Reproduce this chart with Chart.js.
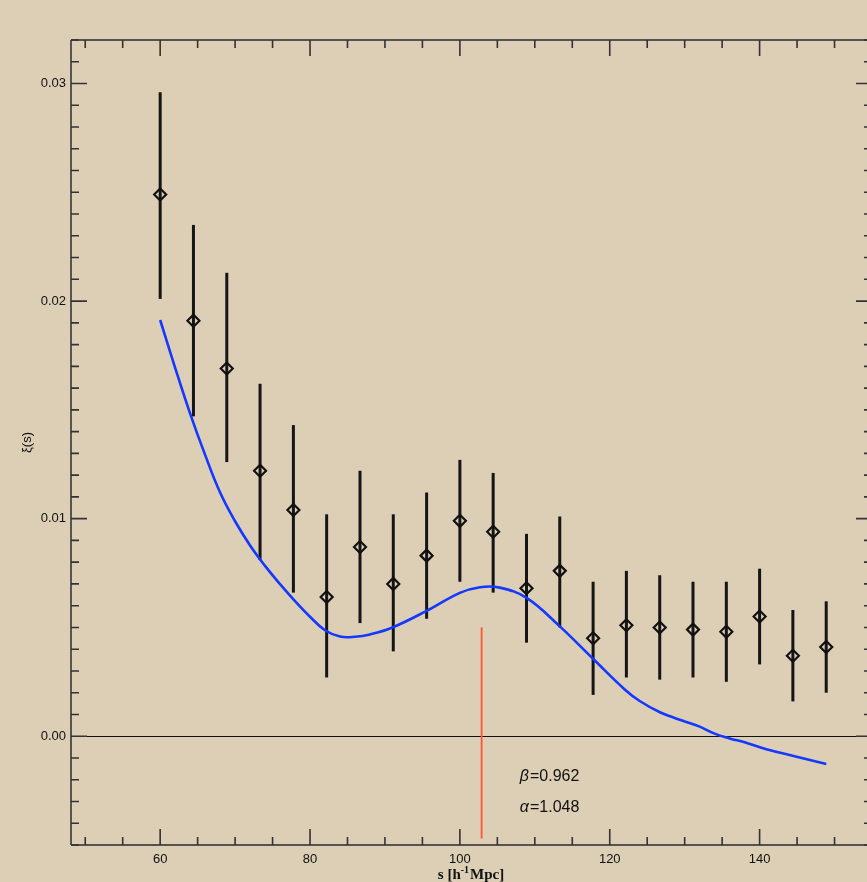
<!DOCTYPE html>
<html>
<head>
<meta charset="utf-8">
<script src="https://cdn.jsdelivr.net/npm/chart.js@4"></script>
<style>
  html, body { margin: 0; padding: 0; background: #dccfb5; overflow: hidden; width: 867px; height: 882px; }
  #wrap { width: 873px; height: 882px; position: relative; }
</style>
</head>
<body>
<div id="wrap"><canvas id="c" width="873" height="882"></canvas></div>
<script>
// ---- data ----
const sValues = [60, 64.44, 68.89, 73.33, 77.78, 82.22, 86.67, 91.11, 95.56, 100, 104.44, 108.89, 113.33, 117.78, 122.22, 126.67, 131.11, 135.56, 140, 144.44, 148.89];
const xiValues = [0.0249, 0.0191, 0.0169, 0.0122, 0.0104, 0.0064, 0.0087, 0.0070, 0.0083, 0.0099, 0.0094, 0.0068, 0.0076, 0.0045, 0.0051, 0.0050, 0.0049, 0.0048, 0.0055, 0.0037, 0.0041];
const errLow = [0.0201, 0.0147, 0.0126, 0.0081, 0.0066, 0.0027, 0.0052, 0.0039, 0.0054, 0.0071, 0.0066, 0.0043, 0.0050, 0.0019, 0.0027, 0.0026, 0.0027, 0.0025, 0.0033, 0.0016, 0.0020];
const errHigh = [0.0296, 0.0235, 0.0213, 0.0162, 0.0143, 0.0102, 0.0122, 0.0102, 0.0112, 0.0127, 0.0121, 0.0093, 0.0101, 0.0071, 0.0076, 0.0074, 0.0071, 0.0071, 0.0077, 0.0058, 0.0062];

const modelS = [60, 62, 64, 66, 68, 70, 72, 74, 76, 78, 80, 82, 84, 86, 88, 91, 95.5, 100, 102.7, 105.3, 108.9, 113.3, 117.8, 122, 124, 126.7, 128.5, 130, 132, 134, 136, 138, 140.9, 144.8, 148.9];
const modelXi = [0.01913, 0.01693, 0.01483, 0.01293, 0.0112, 0.00988, 0.00877, 0.00783, 0.00699, 0.00621, 0.00549, 0.00487, 0.00458, 0.00457, 0.00468, 0.005, 0.00575, 0.00659, 0.00685, 0.00683, 0.00636, 0.00506, 0.00355, 0.00215, 0.00162, 0.0011, 0.00086, 0.00068, 0.00044, 0.00012, -0.0001, -0.00028, -0.0006, -0.00093, -0.00128];

const markerS = 102.9;
const markerXi = [-0.0047, 0.0050];

const xMajorTicks = [60, 80, 100, 120, 140];
const xMinorTicks = [50, 55, 65, 70, 75, 85, 90, 95, 105, 110, 115, 125, 130, 135, 145, 150, 155];
const yMajorTicks = [0.00, 0.01, 0.02, 0.03];
const yMinorTicks = [];
for (let i = -5; i <= 32; i++) { if (i % 10 !== 0) yMinorTicks.push(i / 1000); }

const annotations = [
  { s: 108.0, xi: -0.00186, greek: 'β', text: '=0.962' },
  { s: 108.0, xi: -0.00328, greek: 'α', text: '=1.048' }
];

const xTitleParts = ['s [h', '-1', 'Mpc]'];
const yTitle = 'ξ(s)';

// ---- plugins ----
const bgPlugin = {
  id: 'bg',
  beforeDraw(chart) {
    const ctx = chart.ctx;
    ctx.save();
    ctx.fillStyle = '#dccfb5';
    ctx.fillRect(0, 0, chart.width, chart.height);
    ctx.restore();
  }
};

const errorBarPlugin = {
  id: 'errbars',
  beforeDatasetsDraw(chart) {
    const ctx = chart.ctx, xs = chart.scales.x, ys = chart.scales.y;
    ctx.save();
    ctx.strokeStyle = '#111';
    ctx.lineWidth = 1.2;
    const y0 = Math.round(ys.getPixelForValue(0)) + 0.5;
    ctx.beginPath();
    ctx.moveTo(chart.chartArea.left, y0);
    ctx.lineTo(chart.chartArea.right, y0);
    ctx.stroke();
    ctx.strokeStyle = '#151515';
    ctx.lineWidth = 3;
    for (let i = 0; i < sValues.length; i++) {
      const px = xs.getPixelForValue(sValues[i]);
      ctx.beginPath();
      ctx.moveTo(px, ys.getPixelForValue(errLow[i]));
      ctx.lineTo(px, ys.getPixelForValue(errHigh[i]));
      ctx.stroke();
    }
    ctx.restore();
  }
};

const framePlugin = {
  id: 'frame',
  afterDraw(chart) {
    const ctx = chart.ctx, xs = chart.scales.x, ys = chart.scales.y;
    const a = chart.chartArea;
    ctx.save();
    ctx.strokeStyle = '#2a2a2a';
    ctx.lineWidth = 1.6;
    ctx.beginPath();
    ctx.moveTo(a.left, a.top); ctx.lineTo(a.right, a.top);
    ctx.moveTo(a.left, a.bottom); ctx.lineTo(a.right, a.bottom);
    ctx.moveTo(a.right, a.top); ctx.lineTo(a.right, a.bottom);
    ctx.stroke();
    ctx.strokeStyle = '#555';
    ctx.lineWidth = 2;
    ctx.beginPath();
    ctx.moveTo(a.left, a.top); ctx.lineTo(a.left, a.bottom);
    ctx.stroke();
    ctx.strokeStyle = '#333';
    ctx.lineWidth = 1.6;
    const drawX = (v, len) => {
      const p = xs.getPixelForValue(v);
      if (p < a.left || p > a.right) return;
      ctx.beginPath();
      ctx.moveTo(p, a.bottom); ctx.lineTo(p, a.bottom - len);
      ctx.moveTo(p, a.top); ctx.lineTo(p, a.top + len);
      ctx.stroke();
    };
    const drawY = (v, len) => {
      const p = ys.getPixelForValue(v);
      if (p < a.top || p > a.bottom) return;
      ctx.beginPath();
      ctx.moveTo(a.left, p); ctx.lineTo(a.left + len, p);
      ctx.moveTo(a.right, p); ctx.lineTo(a.right - len, p);
      ctx.stroke();
    };
    xMajorTicks.forEach(v => drawX(v, 16));
    xMinorTicks.forEach(v => drawX(v, 8));
    yMajorTicks.forEach(v => drawY(v, 16));
    yMinorTicks.forEach(v => drawY(v, 8));

    // annotations
    ctx.fillStyle = '#111';
    ctx.textBaseline = 'middle';
    ctx.textAlign = 'left';
    annotations.forEach(an => {
      const px = xs.getPixelForValue(an.s), py = ys.getPixelForValue(an.xi);
      ctx.font = 'italic 16px "Liberation Sans", Arial, sans-serif';
      ctx.fillText(an.greek, px, py);
      const w = ctx.measureText(an.greek).width;
      ctx.font = '16px "Liberation Sans", Arial, sans-serif';
      ctx.fillText(an.text, px + w + 1, py);
    });

    // x title with superscript
    const mainFont = 'bold 15px "Liberation Serif", "Times New Roman", serif';
    const supFont = 'bold 10px "Liberation Serif", "Times New Roman", serif';
    ctx.textBaseline = 'alphabetic';
    ctx.font = mainFont;
    const w0 = ctx.measureText(xTitleParts[0]).width;
    const w2 = ctx.measureText(xTitleParts[2]).width;
    ctx.font = supFont;
    const w1 = ctx.measureText(xTitleParts[1]).width;
    const total = w0 + w1 + 1 + w2;
    let tx = 471 - total / 2;
    const base = 879;
    ctx.font = mainFont;
    ctx.fillText(xTitleParts[0], tx, base);
    tx += w0;
    ctx.font = supFont;
    ctx.fillText(xTitleParts[1], tx, base - 6);
    tx += w1 + 1;
    ctx.font = mainFont;
    ctx.fillText(xTitleParts[2], tx, base);

    // y title
    ctx.save();
    ctx.textBaseline = 'middle';
    ctx.textAlign = 'center';
    ctx.translate(27, (a.top + a.bottom) / 2);
    ctx.rotate(-Math.PI / 2);
    ctx.font = '13px "Liberation Sans", Arial, sans-serif';
    ctx.fillText(yTitle, 0, 0);
    ctx.restore();
    ctx.restore();
  }
};

// ---- chart ----
new Chart(document.getElementById('c'), {
  type: 'scatter',
  data: {
    datasets: [
      {
        label: 'model',
        type: 'line',
        data: modelS.map((s, i) => ({ x: s, y: modelXi[i] })),
        borderColor: '#1438ff',
        borderWidth: 2.6,
        pointRadius: 0,
        fill: false,
        tension: 0.4,
        order: 2
      },
      {
        label: 'peak',
        type: 'line',
        data: markerXi.map(v => ({ x: markerS, y: v })),
        borderColor: '#ff5436',
        borderWidth: 1.8,
        pointRadius: 0,
        fill: false,
        order: 3
      },
      {
        label: 'data',
        data: sValues.map((s, i) => ({ x: s, y: xiValues[i] })),
        pointStyle: 'rectRot',
        pointRadius: 6,
        pointBorderWidth: 2.2,
        pointBorderColor: '#111',
        pointBackgroundColor: 'rgba(0,0,0,0)',
        showLine: false,
        order: 1
      }
    ]
  },
  options: {
    responsive: false,
    animation: false,
    devicePixelRatio: 1,
    layout: { autoPadding: false, padding: { top: 40, right: 1, left: 0, bottom: 0 } },
    plugins: { legend: { display: false }, tooltip: { enabled: false } },
    scales: {
      x: {
        type: 'linear',
        min: 48.1,
        max: 155.0,
        grid: { display: false, drawTicks: false, tickLength: 0 },
        border: { display: false },
        afterBuildTicks(scale) { scale.ticks = xMajorTicks.map(v => ({ value: v })); },
        afterFit(scale) { scale.height = 37; scale.paddingLeft = 0; scale.paddingRight = 0; },
        ticks: {
          color: '#111',
          padding: 7,
          font: { family: '"Liberation Sans", Arial, sans-serif', size: 13 },
          callback: v => String(v)
        }
      },
      y: {
        type: 'linear',
        min: -0.005,
        max: 0.032,
        grid: { display: false, drawTicks: false, tickLength: 0 },
        border: { display: false },
        afterBuildTicks(scale) { scale.ticks = yMajorTicks.map(v => ({ value: v })); },
        afterFit(scale) { scale.width = 71; scale.paddingTop = 0; scale.paddingBottom = 0; },
        ticks: {
          color: '#111',
          padding: 5,
          font: { family: '"Liberation Sans", Arial, sans-serif', size: 13 },
          callback: v => Number(v).toFixed(2)
        }
      }
    }
  },
  plugins: [bgPlugin, errorBarPlugin, framePlugin]
});
</script>
</body>
</html>
